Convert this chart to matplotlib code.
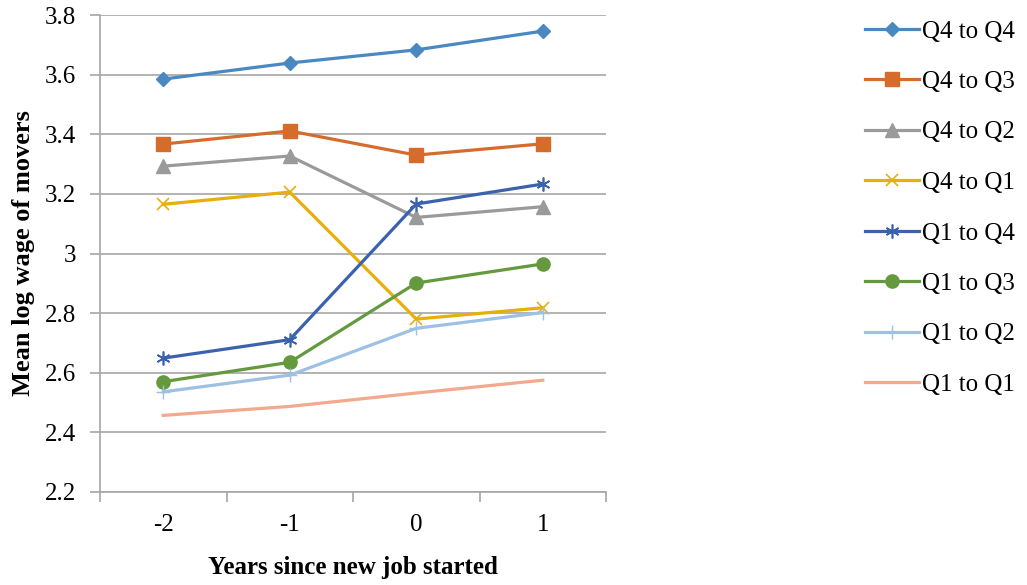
import matplotlib
matplotlib.use('Agg')
import matplotlib.pyplot as plt

# years relative to start of new job
years = [-2, -1, 0, 1]
xtick_labels = ['-2', '-1', '0', '1']

# mean log wage of movers by origin/destination quartile
q4_q4 = [3.585, 3.639, 3.683, 3.746]
q4_q3 = [3.367, 3.411, 3.330, 3.368]
q4_q2 = [3.293, 3.327, 3.121, 3.157]
q4_q1 = [3.165, 3.206, 2.780, 2.818]
q1_q4 = [2.649, 2.711, 3.166, 3.233]
q1_q3 = [2.570, 2.635, 2.901, 2.965]
q1_q2 = [2.536, 2.592, 2.749, 2.802]
q1_q1 = [2.457, 2.487, 2.532, 2.575]

yticks = [2.2, 2.4, 2.6, 2.8, 3, 3.2, 3.4, 3.6, 3.8]
ytick_labels = ['2.2', '2.4', '2.6', '2.8', '3', '3.2', '3.4', '3.6', '3.8']

plt.rcParams['font.family'] = ['Liberation Serif', 'DejaVu Serif']

fig = plt.figure(figsize=(10.27, 5.85), dpi=100)
ax = fig.add_axes([100 / 1027, 1 - 492 / 585, 506 / 1027, 477 / 585])

lw = 2.3
ax.plot(years, q4_q4, color='#4A88C2', lw=lw, marker='D', ms=7.5, label='Q4 to Q4')
ax.plot(years, q4_q3, color='#D56C2C', lw=lw, marker='s', ms=9.5, label='Q4 to Q3')
ax.plot(years, q4_q2, color='#9A9A9A', lw=lw, marker='^', ms=9.5, label='Q4 to Q2')
ax.plot(years, q4_q1, color='#E8AE0C', lw=lw, marker='x', ms=9, mew=1.2, label='Q4 to Q1')
ax.plot(years, q1_q4, color='#3B63AD', lw=lw, marker=(6, 2, 0), ms=10, mew=1.2, label='Q1 to Q4')
ax.plot(years, q1_q3, color='#64993D', lw=lw, marker='o', ms=9.5, label='Q1 to Q3')
ax.plot(years, q1_q2, color='#9EC0E4', lw=lw, marker='+', ms=10, mew=1.0, label='Q1 to Q2')
ax.plot(years, q1_q1, color='#F2A98C', lw=lw, label='Q1 to Q1')

ax.set_xlim(-2.5, 1.5)
ax.set_ylim(2.2, 3.8)
ax.set_yticks(yticks)
ax.set_yticklabels(ytick_labels)
ax.set_xticks(years)
ax.set_xticklabels(xtick_labels)
ax.set_xticks([-2.5, -1.5, -0.5, 0.5, 1.5], minor=True)
ax.tick_params(axis='x', which='major', length=0, labelsize=18, pad=16)
ax.tick_params(axis='x', which='minor', length=7, width=1.2, color='#A6A6A6', direction='out')
ax.tick_params(axis='y', length=7, width=1.2, color='#A6A6A6', direction='out', labelsize=18, pad=10)

ax.grid(axis='y', color='#A6A6A6', lw=1.2)
ax.set_axisbelow(True)
for s in ['top', 'right']:
    ax.spines[s].set_visible(False)
ax.spines['left'].set_color('#A6A6A6')
ax.spines['bottom'].set_color('#A6A6A6')
ax.spines['left'].set_linewidth(1.2)
ax.spines['bottom'].set_linewidth(1.2)

ax.set_xlabel('Years since new job started', fontsize=18, fontweight='bold', labelpad=14)
ax.set_ylabel('Mean log wage of movers', fontsize=19, fontweight='bold', labelpad=7)

fig.legend(loc='upper left', bbox_to_anchor=(865 / 1027, 1 - 20 / 585), frameon=False,
           borderpad=0, borderaxespad=0, fontsize=18, handlelength=2.15,
           handletextpad=0.15, labelspacing=1.12)

fig.savefig('out.png', dpi=100)
